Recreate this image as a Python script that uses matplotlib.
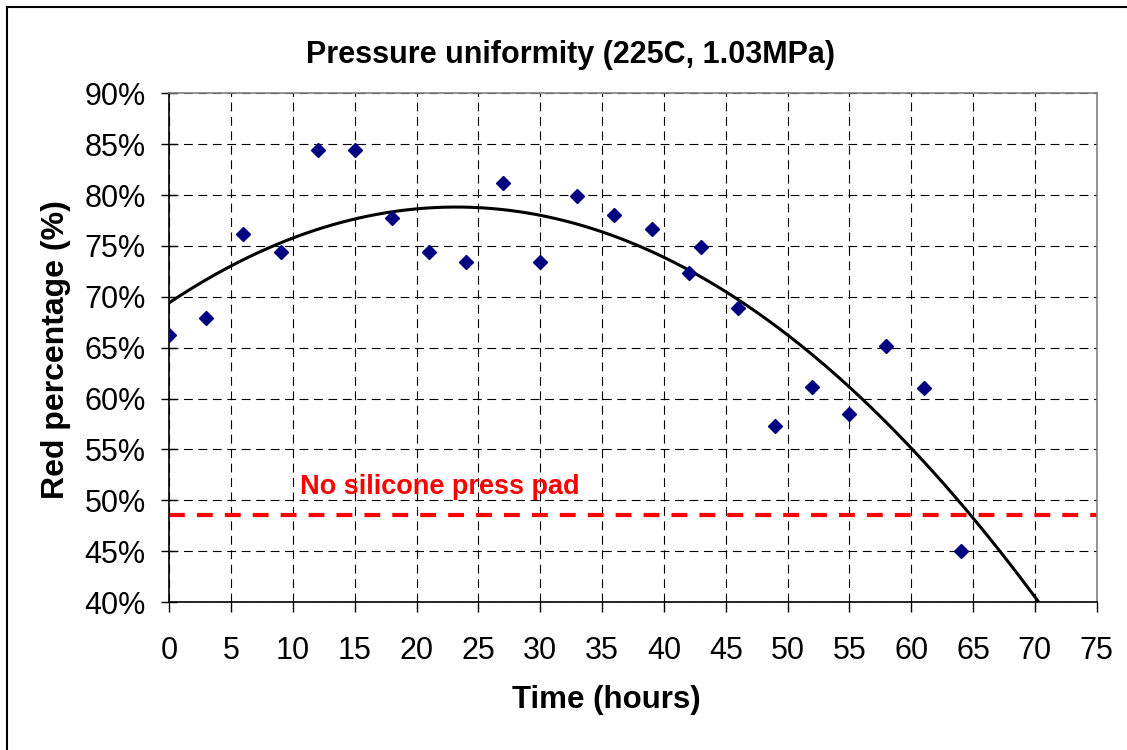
import numpy as np
import matplotlib
matplotlib.use("Agg")
import matplotlib.pyplot as plt
from matplotlib.lines import Line2D

plt.rcParams['font.family'] = ['Liberation Sans', 'DejaVu Sans']

# Data
time_h = [0, 3, 6, 9, 12, 15, 18, 21, 24, 27, 30, 33, 36, 39, 42, 43, 46, 49, 52, 55, 58, 61, 64]
red_pct = [66.2, 67.9, 76.2, 74.4, 84.4, 84.4, 77.7, 74.4, 73.4, 81.2, 73.4, 79.9, 78.0, 76.7,
           72.3, 74.9, 68.9, 57.3, 61.1, 58.5, 65.2, 61.0, 45.0]
no_pad_level = 48.6
x_ticks = [0, 5, 10, 15, 20, 25, 30, 35, 40, 45, 50, 55, 60, 65, 70, 75]
y_ticks = [40, 45, 50, 55, 60, 65, 70, 75, 80, 85, 90]

W, H = 1127, 750
fig = plt.figure(figsize=(W / 100, H / 100), dpi=100)
ax = fig.add_axes([169.3 / W, 1 - 602 / H, (1096.7 - 169.3) / W, (602 - 93.3) / H])

ax.set_xlim(0, 75)
ax.set_ylim(40, 90)
ax.set_xticks(x_ticks)
ax.set_yticks(y_ticks)
ax.set_yticklabels([f"{v}%" for v in y_ticks])

ax.grid(True, color='black', linewidth=0.8, linestyle=(0, (8, 5)), zorder=0)

# red reference line
ax.axhline(no_pad_level, color='#ff0000', linewidth=3, linestyle=(0, (3.8, 2.9)), zorder=2)
ax.text(10.6, 50.6, "No silicone press pad", color='#ff0000', fontsize=19.5,
        fontweight='bold', ha='left', va='baseline', zorder=3)

# polynomial trendline
coef = np.polyfit(time_h, red_pct, 2)
xs = np.linspace(0, 75, 400)
ax.plot(xs, np.polyval(coef, xs), color='black', linewidth=2.2, zorder=3)

ax.plot(time_h, red_pct, linestyle='none', marker='D', markersize=7.5,
        color='#000080', markeredgecolor='#000080', zorder=4)

for s in ['left', 'bottom']:
    ax.spines[s].set_color('black')
    ax.spines[s].set_linewidth(1.2)
for s in ['top', 'right']:
    ax.spines[s].set_color('#808080')
    ax.spines[s].set_linewidth(1.2)

ax.tick_params(axis='x', direction='out', length=7.5, width=1, pad=17, labelsize=22)
ax.tick_params(axis='y', direction='inout', length=12, width=1, pad=11, labelsize=22)

fig.text(571 / W, 1 - 55 / H, "Pressure uniformity (225C, 1.03MPa)", fontsize=22,
         fontweight='bold', ha='center', va='center')
fig.text(606 / W, 1 - 700 / H, "Time (hours)", fontsize=22.5, fontweight='bold',
         ha='center', va='center')
fig.text(56 / W, 1 - 350 / H, "Red percentage (%)", fontsize=23, fontweight='bold',
         ha='center', va='center', rotation=90)

# outer chart border
fig.add_artist(Line2D([7 / W, 1.0], [1 - 7 / H, 1 - 7 / H], color='black', linewidth=1.5,
                      transform=fig.transFigure))
fig.add_artist(Line2D([7 / W, 7 / W], [0.0, 1 - 7 / H], color='black', linewidth=1.5,
                      transform=fig.transFigure))

fig.savefig("out.png", dpi=100)
